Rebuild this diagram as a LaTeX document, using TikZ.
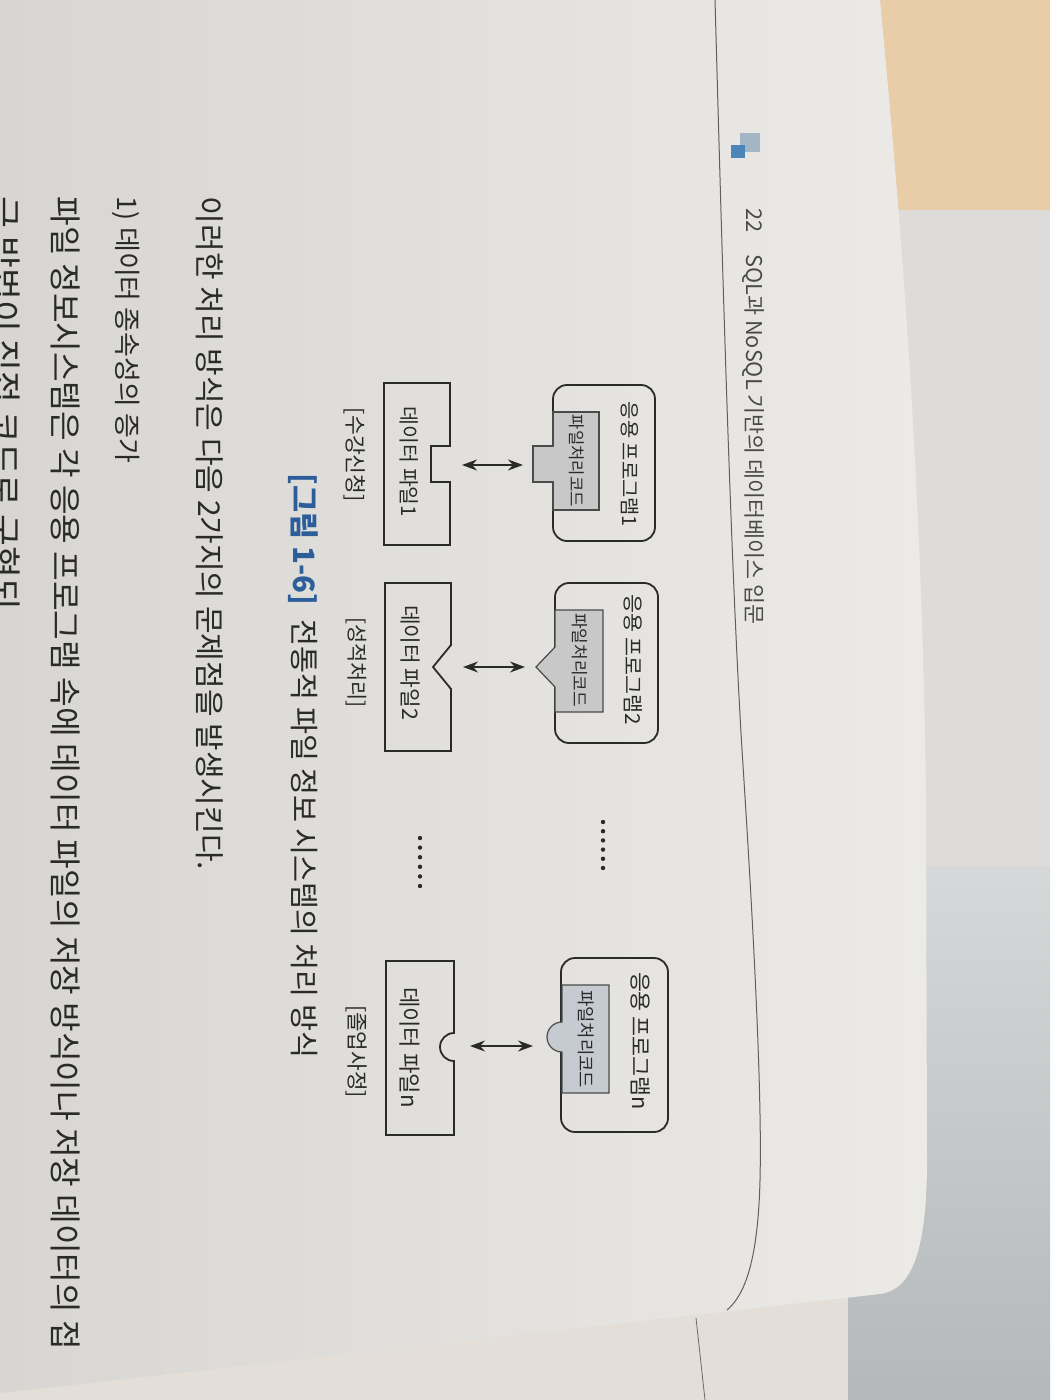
\documentclass[tikz,border=0pt]{standalone}
\usepackage{fontspec}
\usepackage{graphicx}
\setmainfont{Noto Sans CJK KR}
\usetikzlibrary{arrows.meta}
\definecolor{pagel}{HTML}{D8D6D2}
\definecolor{pagem}{HTML}{E3E1DD}
\definecolor{pager}{HTML}{EBEAE7}
\definecolor{beigec}{HTML}{E9CCA8}
\definecolor{wallc}{HTML}{DDDCDA}
\definecolor{bluegc}{HTML}{C4C8CA}
\definecolor{lowpc}{HTML}{E3DED7}
\definecolor{inkc}{HTML}{2A2A2A}
\definecolor{hdrc}{HTML}{4A4A4A}
\definecolor{capblue}{HTML}{2D5E9A}
\definecolor{codec}{HTML}{C8C8C8}
\definecolor{codenc}{HTML}{C6CBD1}
\definecolor{iconl}{HTML}{A3B6C6}
\definecolor{icond}{HTML}{4C86B9}
\newcommand{\fitw}[2]{\resizebox{#1}{!}{#2}}
\begin{document}
\begin{tikzpicture}[x=0.5pt,y=-0.5pt,
  txt/.style={rotate=-90, inner sep=0pt, text=inkc, font=\fontsize{10pt}{12pt}\selectfont},
  appbox/.style={draw=inkc, line width=0.9pt, rounded corners=7pt, inner sep=0pt},
  filebox/.style={draw=inkc, line width=0.9pt, line join=miter},
  codebox/.style={draw=inkc!85, line width=0.6pt, fill=codec},
  link/.style={{Stealth[length=7.5pt,width=5.5pt]}-{Stealth[length=7.5pt,width=5.5pt]}, line width=0.8pt, draw=inkc},
  dot/.style={fill=inkc}
  ]
\useasboundingbox (0,0) rectangle (1050,1400);
% ---------- background (photo surroundings) ----------
\fill[wallc] (0,0) rectangle (1050,1400);
\fill[beigec] (850,0) rectangle (1050,210);
\shade[top color=bluegc!70!white, bottom color=bluegc!92!black] (820,866) rectangle (1050,1400);
\fill[lowpc] (0,1270) rectangle (848,1400);
\draw[inkc!70, line width=0.4pt] (696,1318) -- (705,1400);
\shade[left color=pagel, middle color=pagem, right color=pager]
  (0,0) -- (880,0) .. controls (895,160) and (922,450) .. (926,800) -- (927,1160)
  .. controls (927,1250) and (912,1290) .. (880,1294) -- (500,1337) -- (0,1393) -- cycle;
\draw[inkc!75, line width=0.5pt] (715,0) .. controls (722,250) and (730,550) .. (742,750)
  .. controls (755,950) and (762,1100) .. (760,1180)
  .. controls (758,1260) and (745,1295) .. (727,1310);
% ---------- header ----------
\fill[iconl] (740,133) rectangle (760,152);
\fill[icond] (731,145) rectangle (745,158);
\node[txt, text=hdrc] (hdr) at (753,416.5) {\fitw{208pt}{22\quad SQL과 NoSQL 기반의 데이터베이스 입문}};
% ---------- application programs ----------
\node[appbox, minimum width=51pt, minimum height=78pt] (app1) at (604,463) {};
\node[appbox, minimum width=51.5pt, minimum height=80pt] (app2) at (606.5,663) {};
\node[appbox, minimum width=53.5pt, minimum height=87pt] (appn) at (614.5,1045) {};
% code boxes with tabs
\draw[codebox] (553,412) -- (599,412) -- (599,510) -- (553,510) -- (553,482) -- (533,482) -- (533,446) -- (553,446) -- cycle;
\draw[codebox] (555,610) -- (603,610) -- (603,712) -- (555,712) -- (555,687) -- (536,667) -- (555,647) -- cycle;
\draw[codebox, fill=codenc] (562,985) -- (609,985) -- (609,1093) -- (562,1093) -- (562,1052)
  arc[start angle=270, end angle=90, radius=7.5pt] -- cycle;
% ---------- data files ----------
\draw[filebox] (384,383) -- (450,383) -- (450,446) -- (431,446) -- (431,482) -- (450,482) -- (450,545) -- (384,545) -- cycle;
\draw[filebox] (385,583) -- (451,583) -- (451,645) -- (433,667) -- (451,689) -- (451,751) -- (385,751) -- cycle;
\draw[filebox] (386,961) -- (454,961) -- (454,1033) arc[start angle=90, end angle=270, radius=7pt]
  -- (454,1135) -- (386,1135) -- cycle;
% ---------- connectors ----------
\coordinate (d1m) at (450,465);
\coordinate (g1t) at (533,465);
\coordinate (d2m) at (451,667);
\coordinate (g2t) at (536,667);
\coordinate (dnm) at (454,1046);
\coordinate (gnt) at (547,1046);
\draw[link, shorten <=6pt, shorten >=5pt] (d1m) -- (g1t);
\draw[link, shorten <=6pt, shorten >=5.5pt] (d2m) -- (g2t);
\draw[link, shorten <=8pt, shorten >=7pt] (dnm) -- (gnt);
% ---------- dots ----------
\foreach \i in {0,...,5} {
  \fill[dot] (603,{822+9.2*\i}) circle[radius=1.1pt];
  \fill[dot] (420,{838+9.6*\i}) circle[radius=1.1pt];
}
% ---------- labels ----------
\node[txt] (tapp1) at (630,464.5) {\fitw{62.5pt}{응용 프로그램1}};
\node[txt] (tapp2) at (633,660) {\fitw{65pt}{응용 프로그램2}};
\node[txt] (tappn) at (641,1041) {\fitw{69pt}{응용 프로그램n}};
\node[txt] (tg1) at (577,461) {\fitw{46pt}{파일처리코드}};
\node[txt] (tg2) at (580,660) {\fitw{47pt}{파일처리코드}};
\node[txt] (tgn) at (586,1039) {\fitw{49pt}{파일처리코드}};
\node[txt] (td1) at (409,462) {\fitw{55pt}{데이터 파일1}};
\node[txt] (td2) at (410,662.5) {\fitw{57.5pt}{데이터 파일2}};
\node[txt] (tdn) at (410,1047.5) {\fitw{60.5pt}{데이터 파일n}};
\node[txt] (tl1) at (355,455) {\fitw{47pt}{[수강신청]}};
\node[txt] (tl2) at (356,662.5) {\fitw{45.5pt}{[성적처리]}};
\node[txt] (tln) at (357,1051.5) {\fitw{46.5pt}{[졸업사정]}};
% ---------- caption ----------
\node[txt] (cap) at (303,766) {\fitw{292pt}{\textcolor{capblue}{\bfseries [그림 1-6]}\hspace{0.5em}전통적 파일 정보 시스템의 처리 방식}};
% ---------- body text ----------
\node[txt] (body1) at (210,533.5) {\fitw{336.5pt}{이러한 처리 방식은 다음 2가지의 문제점을 발생시킨다.}};
\node[txt] (body2) at (126,330) {\fitw{133pt}{1) 데이터 종속성의 증가}};
\node[txt] (body3) at (66,773.5) {\fitw{576.5pt}{파일 정보시스템은 각 응용 프로그램 속에 데이터 파일의 저장 방식이나 저장 데이터의 접}};
\node[txt] (body4) at (4,403.5) {\fitw{206.5pt}{근 방법이 직접 코드로 구현되}};
\end{tikzpicture}
\end{document}
